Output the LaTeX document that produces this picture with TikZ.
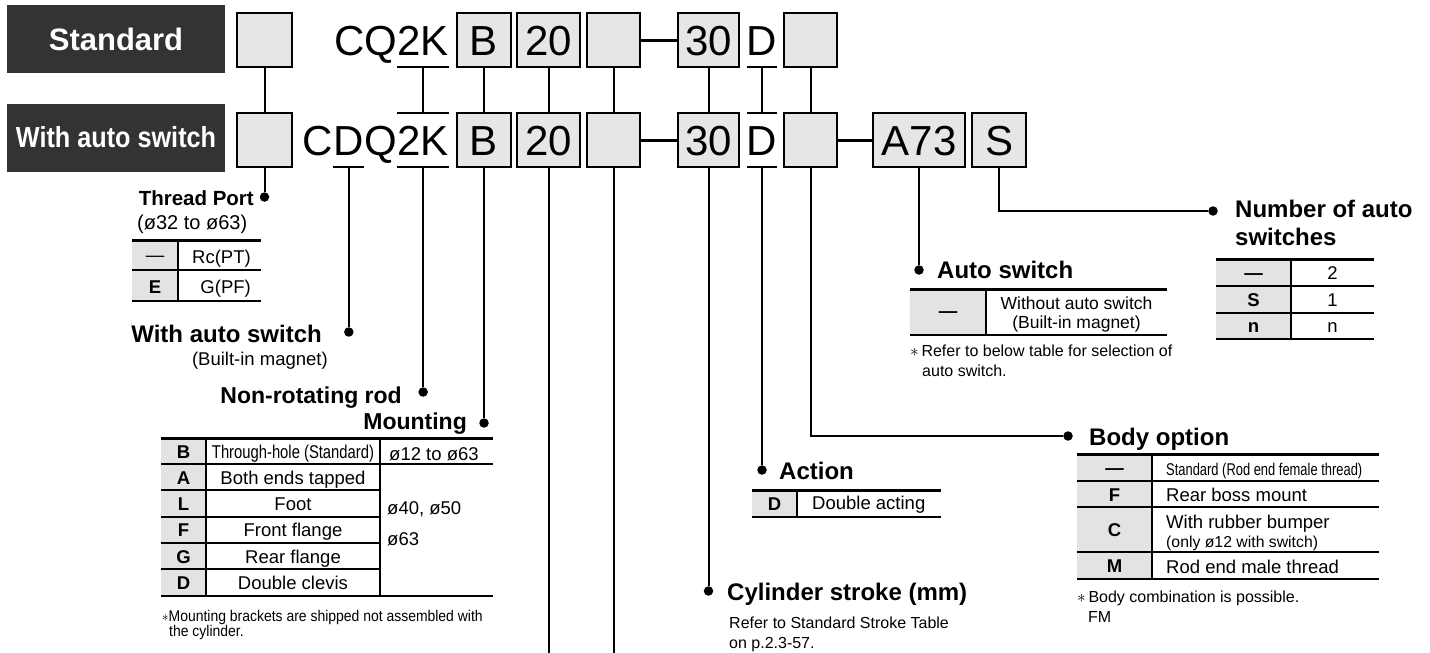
\documentclass[tikz,border=0pt]{standalone}
\usepackage{fontspec}
\setmainfont{Liberation Sans}
\usepackage{graphicx}
\usepackage{tikz}
\usetikzlibrary{positioning,calc}
\definecolor{hdrdark}{HTML}{333333}
\definecolor{cellgray}{HTML}{E3E3E3}
\definecolor{boxgray}{HTML}{E6E6E6}
\newcommand{\sizeto}[1]{\fontsize{#1}{#1}\selectfont}
\tikzset{
  hdrbox/.style={fill=hdrdark,text=white,minimum width=218pt,minimum height=68pt,
                 inner sep=0pt,font=\sizeto{31}\bfseries},
  codebox/.style={draw=black,fill=boxgray,line width=2pt,minimum height=54pt,
                  inner sep=0pt,text height=30pt,text depth=0pt,font=\sizeto{42}},
  codetxt/.style={inner xsep=0pt,inner ysep=12pt,text height=30pt,text depth=0pt,
                  font=\sizeto{42}},
  conn/.style={line width=2pt},
  joinbar/.style={line width=3pt},
  dot/.style={circle,fill=black,inner sep=0pt,minimum size=9.5pt},
  head/.style={inner sep=0pt,font=\sizeto{24}\bfseries},
  sub/.style={inner sep=0pt,font=\sizeto{18.5}},
  key/.style={inner sep=0pt,font=\sizeto{18.5}\bfseries},
  note/.style={inner sep=0pt,font=\sizeto{16}},
  toprule/.style={line width=3pt},
  rule/.style={line width=1.2pt}
}

\begin{document}
\begin{tikzpicture}[x=1pt,y=-1pt]
  \useasboundingbox (0,0) rectangle (1430,653);
  % headers
  \node[hdrbox] (std) at (116,39) {Standard};
  \node[hdrbox,font=\sizeto{29}\bfseries] (withsw) at (116,137.5) {\scalebox{0.87}[1]{With auto switch}};
  % row 1
  \node[codebox,minimum width=55pt] (pre1) at (264.5,40) {};
  \node[codetxt,anchor=east] (k1) at (449,40) {2K};
  \node[codetxt,anchor=east] (cq1) at (k1.west) {CQ};
  \node[codebox,minimum width=54pt] (b1) at (484,40) {B};
  \node[codebox,minimum width=63pt] (bore1) at (548.5,40) {20};
  \node[codebox,minimum width=53pt] (port1) at (613.5,40) {};
  \node[codebox,minimum width=61pt] (strk1) at (708.5,40) {30};
  \node[codetxt] (act1) at (762,40) {D};
  \node[codebox,minimum width=53pt] (opt1) at (810.5,40) {};
  % row 2
  \node[codebox,minimum width=55pt] (pre2) at (264.5,140) {};
  \node[codetxt,anchor=east] (k2) at (449,140) {2K};
  \node[codetxt,anchor=east] (q2) at (k2.west) {Q};
  \node[codetxt,anchor=east] (d2) at (q2.west) {D};
  \node[codetxt,anchor=east] (c2) at (d2.west) {C};
  \node[codebox,minimum width=54pt] (b2) at (484,140) {B};
  \node[codebox,minimum width=63pt] (bore2) at (548.5,140) {20};
  \node[codebox,minimum width=53pt] (port2) at (613.5,140) {};
  \node[codebox,minimum width=61pt] (strk2) at (708.5,140) {30};
  \node[codetxt] (act2) at (762,140) {D};
  \node[codebox,minimum width=53pt] (opt2) at (810.5,140) {};
  \node[codebox,minimum width=92pt] (sw2) at (919,140) {A73};
  \node[codebox,minimum width=54pt] (num2) at (999,140) {S};

  \draw[joinbar] (port1.east) -- (strk1.west);
  \draw[joinbar] (port2.east) -- (strk2.west);
  \draw[joinbar] (opt2.east) -- (sw2.west);

  \draw[conn] (k1.south west) -- (k1.south east);
  \draw[conn] (k2.north west) -- (k2.north east);
  \draw[conn] (k2.south west) -- (k2.south east);
  \draw[conn] (k1.south) -- (k2.north);
  \draw[conn] (act1.south west) -- (act1.south east);
  \draw[conn] (act2.north west) -- (act2.north east);
  \draw[conn] (act2.south west) -- (act2.south east);
  \draw[conn] (act1.south) -- (act2.north);
  \draw[conn] (d2.south west) -- (d2.south east);
  \foreach \bx in {pre,b,bore,port,strk,opt}
    \draw[conn] (\bx1.south) -- (\bx2.north);

  % dots and leaders
  \node[dot] (tpdot) at (pre2.south |- 0,197) {};
  \node[dot] (wsdot) at (d2.south |- 0,332) {};
  \node[dot] (nrdot) at (k2.south |- 0,392) {};
  \node[dot] (mtdot) at (b2.south |- 0,423) {};
  \node[dot] (csdot) at (strk2.south |- 0,591) {};
  \node[dot] (acdot) at (act2.south |- 0,470) {};
  \node[dot] (bodot) at (1068,436) {};
  \node[dot] (asdot) at (sw2.south |- 0,270) {};
  \node[dot] (nsdot) at (1213,211) {};
  \coordinate (boreend) at (bore2.south |- 0,653);
  \coordinate (portend) at (port2.south |- 0,653);
  \draw[conn] (pre2.south) -- (tpdot);
  \draw[conn] (d2.south) -- (wsdot);
  \draw[conn] (k2.south) -- (nrdot);
  \draw[conn] (b2.south) -- (mtdot);
  \draw[conn] (bore2.south) -- (boreend);
  \draw[conn] (port2.south) -- (portend);
  \draw[conn] (strk2.south) -- (csdot);
  \draw[conn] (act2.south) -- (acdot);
  \draw[conn] (opt2.south) |- (bodot);
  \draw[conn] (sw2.south) -- (asdot);
  \draw[conn] (num2.south) |- (nsdot);

  % thread port
  \node[head,font=\sizeto{20.5}\bfseries,anchor=base east] (tplbl) at (254,205) {Thread Port};
  \node[sub,font=\sizeto{20},anchor=base west] (tprange) at (137,229) {(ø32 to ø63)};
  \fill[cellgray] (132,240) rectangle (178,301);
  \draw[toprule] (132,240) -- (261,240);
  \draw[rule] (132,270) -- (261,270);
  \draw[rule] (132,301) -- (261,301);
  \draw[rule] (178,240) -- (178,301);
  \node[sub,anchor=base] (tpk1) at (155,261) {—};
  \node[sub,anchor=base east] (tpv1) at (251,263) {Rc(PT)};
  \node[key,anchor=base] (tpk2) at (155,293) {E};
  \node[sub,anchor=base east] (tpv2) at (251,293) {G(PF)};

  % with auto switch
  \node[head,anchor=base east] (wslbl) at (322,342) {With auto switch};
  \node[sub,anchor=base east] (wsnote) at (328,365) {(Built-in magnet)};

  % non-rotating rod, mounting
  \node[head,font=\sizeto{23}\bfseries,anchor=base east] (nrlbl) at (402,403) {Non-rotating rod};
  \node[head,font=\sizeto{23}\bfseries,anchor=base east] (mtlbl) at (467,429) {Mounting};
  \fill[cellgray] (161,438) rectangle (206,596);
  \draw[toprule] (161,438) -- (493,438);
  \draw[rule] (161,464) -- (493,464);
  \foreach \yy in {490,517,543,569}
    \draw[rule] (161,\yy) -- (380,\yy);
  \draw[rule] (161,596) -- (493,596);
  \draw[rule] (206,438) -- (206,596);
  \draw[rule] (380,438) -- (380,596);
  \foreach \k/\txt/\yy [count=\i] in {B/{\scalebox{0.8}[1]{Through-hole (Standard)}}/458,
      A/Both ends tapped/484,L/Foot/510,F/Front flange/536.5,G/Rear flange/563,D/Double clevis/589} {
    \node[key,anchor=base] (mk\i) at (183.5,\yy) {\k};
    \node[sub,anchor=base] (mv\i) at (293,\yy) {\txt};
  }
  \node[sub,anchor=base west] (mr1) at (389,460) {ø12 to ø63};
  \node[sub,anchor=base west] (mr2) at (387,514) {ø40, ø50};
  \node[sub,anchor=base west] (mr3) at (387,545) {ø63};
  \node[note,font=\sizeto{15.5},anchor=base west] (mtnote1) at (162,621)
    {\scalebox{0.9}[1]{$\ast$Mounting brackets are shipped not assembled with}};
  \node[note,font=\sizeto{15.5},anchor=base west] (mtnote2) at (169,636)
    {\scalebox{0.9}[1]{the cylinder.}};

  % auto switch
  \node[head,anchor=base west] (aslbl) at (937,278.5) {Auto switch};
  \fill[cellgray] (910,289) rectangle (986,335);
  \draw[toprule] (910,289) -- (1167,289);
  \draw[rule] (910,335) -- (1167,335);
  \draw[rule] (986,289) -- (986,335);
  \node[key,anchor=base] (ask) at (948,317.5) {—};
  \node[sub,font=\sizeto{17.5},anchor=base] (asv1) at (1076.5,309) {Without auto switch};
  \node[sub,font=\sizeto{17.5},anchor=base] (asv2) at (1076.5,328) {(Built-in magnet)};
  \node[note,anchor=base west] (asnote1) at (910,356) {$\ast$\,Refer to below table for selection of};
  \node[note,anchor=base west] (asnote2) at (922,376) {auto switch.};

  % number of auto switches
  \node[head,anchor=base west] (nslbl1) at (1235,217) {Number of auto};
  \node[head,anchor=base west] (nslbl2) at (1235,245) {switches};
  \fill[cellgray] (1216,259) rectangle (1291,339);
  \draw[toprule] (1216,259) -- (1374,259);
  \foreach \yy in {286,313,339}
    \draw[rule] (1216,\yy) -- (1374,\yy);
  \draw[rule] (1291,259) -- (1291,339);
  \foreach \k/\txt/\yy [count=\i] in {—/2/279,S/1/306,n/n/332} {
    \node[key,anchor=base] (nk\i) at (1253.5,\yy) {\k};
    \node[sub,anchor=base] (nv\i) at (1332.5,\yy) {\txt};
  }

  % body option
  \node[head,anchor=base west] (bolbl) at (1089,445) {Body option};
  \fill[cellgray] (1077,454) rectangle (1152,579);
  \draw[toprule] (1077,454) -- (1379,454);
  \foreach \yy in {481,507,552,579}
    \draw[rule] (1077,\yy) -- (1379,\yy);
  \draw[rule] (1152,454) -- (1152,579);
  \node[key,anchor=base] (bk1) at (1114.5,474) {—};
  \node[key,anchor=base] (bk2) at (1114.5,501) {F};
  \node[key,anchor=base] (bk3) at (1114.5,536) {C};
  \node[key,anchor=base] (bk4) at (1114.5,572) {M};
  \node[sub,font=\sizeto{17},anchor=base west] (bv1) at (1166,475) {\scalebox{0.76}[1]{Standard (Rod end female thread)}};
  \node[sub,anchor=base west] (bv2) at (1166,501) {Rear boss mount};
  \node[sub,anchor=base west] (bv3) at (1166,528) {With rubber bumper};
  \node[sub,font=\sizeto{15.8},anchor=base west] (bv3b) at (1166,547) {(only ø12 with switch)};
  \node[sub,anchor=base west] (bv4) at (1166,573) {Rod end male thread};
  \node[note,anchor=base west] (bonote1) at (1077,602) {$\ast$\,Body combination is possible.};
  \node[note,anchor=base west] (bonote2) at (1088,622) {FM};

  % action
  \node[head,anchor=base west] (aclbl) at (779,479) {Action};
  \fill[cellgray] (752,490) rectangle (797,517);
  \draw[toprule] (752,490) -- (941,490);
  \draw[rule] (752,517) -- (941,517);
  \draw[rule] (797,490) -- (797,517);
  \node[key,anchor=base] (ack) at (774.5,510) {D};
  \node[sub,anchor=base west] (acv) at (812,509) {Double acting};

  % cylinder stroke
  \node[head,anchor=base west] (cslbl) at (727,600) {Cylinder stroke (mm)};
  \node[note,anchor=base west] (csnote1) at (729,628) {Refer to Standard Stroke Table};
  \node[note,anchor=base west] (csnote2) at (729,648) {on p.2.3-57.};
\end{tikzpicture}
\end{document}
